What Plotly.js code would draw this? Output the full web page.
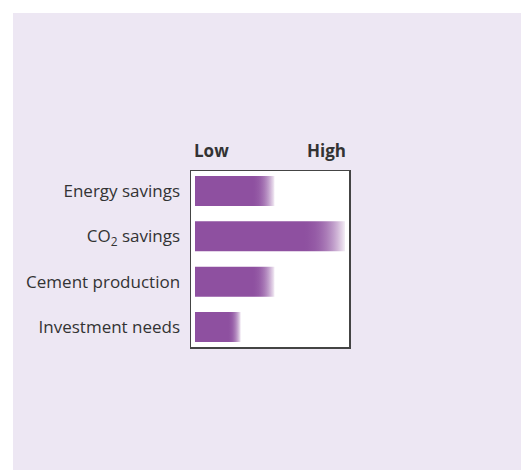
<!DOCTYPE html>
<html>
<head>
<meta charset="utf-8">
<script src="https://cdn.plot.ly/plotly-3.0.1.min.js"></script>
<style>
  html, body { margin: 0; padding: 0; background: #ffffff; }
  #chart { position: absolute; left: 13px; top: 13px; width: 508px; height: 457px; }
</style>
</head>
<body>
<div id="chart"></div>
<script>
// Data (relative level, Low = 0 to High = 10)
const categories = ['Energy savings', 'CO<sub>2</sub> savings', 'Cement production', 'Investment needs'];
const values = [5.3, 10, 5.3, 3.05];
const scaleLabels = ['Low', 'High'];
const scaleRange = [0, 10];

// Styling
const purple = [142, 80, 160];
const fadeStart = 0.7;   // fraction of each bar's length where the fade begins
const halfBar = 0.331;

function mix(t) {
  const k = 0.9 * Math.pow(t, 2.4);
  const c = purple.map(v => Math.round(v + (255 - v) * k));
  return 'rgb(' + c.join(',') + ')';
}

function fadeScale() {
  const cs = [[0, mix(0)]];
  const n = 12;
  for (let k = 0; k <= n; k++) {
    let pos = k === n ? 1 : Math.round((fadeStart + (1 - fadeStart) * k / n) * 10000) / 10000;
    cs.push([pos, mix(k / n)]);
  }
  return cs;
}

const traces = categories.map((cat, i) => {
  const v = values[i];
  return {
    type: 'scatter', mode: 'none',
    x: [0, v, v, 0, 0],
    y: [i - halfBar, i - halfBar, i + halfBar, i + halfBar, i - halfBar],
    fill: 'toself',
    fillgradient: { type: 'horizontal', start: 0, stop: v, colorscale: fadeScale() },
    hoverinfo: 'skip', showlegend: false
  };
});

const fontFam = 'Open Sans, sans-serif';
const layout = {
  width: 508, height: 457,
  margin: { l: 178, r: 172, t: 158, b: 123 },
  paper_bgcolor: '#ede7f3',
  plot_bgcolor: '#ffffff',
  font: { family: fontFam, size: 17, color: '#333333' },
  xaxis: {
    range: [-0.267, 10.267], fixedrange: true,
    showticklabels: false, showgrid: false, zeroline: false, ticks: '',
    showline: true, mirror: true, linecolor: '#444444', linewidth: 1.5
  },
  yaxis: {
    autorange: false, range: [3.44, -0.44], fixedrange: true,
    tickmode: 'array', tickvals: [0, 1, 2, 3], ticktext: categories,
    showgrid: false, zeroline: false,
    ticks: 'outside', ticklen: 6, tickcolor: 'rgba(0,0,0,0)',
    tickfont: { family: fontFam, size: 17, color: '#333333' },
    showline: true, mirror: true, linecolor: '#444444', linewidth: 1.5
  },
  annotations: [
    { text: '<b>' + scaleLabels[0] + '</b>', x: scaleRange[0], xref: 'x', xanchor: 'left', xshift: -3,
      y: 1, yref: 'paper', yanchor: 'bottom', yshift: 7, showarrow: false,
      font: { family: fontFam, size: 17, color: '#333333' } },
    { text: '<b>' + scaleLabels[1] + '</b>', x: scaleRange[1], xref: 'x', xanchor: 'right', xshift: 3,
      y: 1, yref: 'paper', yanchor: 'bottom', yshift: 7, showarrow: false,
      font: { family: fontFam, size: 17, color: '#333333' } }
  ]
};

Plotly.newPlot('chart', traces, layout, { displayModeBar: false, staticPlot: true });
</script>
</body>
</html>
